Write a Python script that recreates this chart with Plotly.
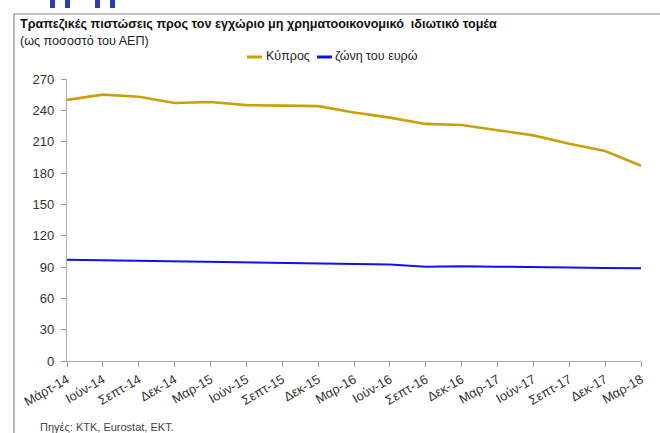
import plotly.graph_objects as go

quarters = ["Μάρτ-14", "Ιούν-14", "Σεπτ-14", "Δεκ-14", "Μαρ-15", "Ιούν-15", "Σεπτ-15",
            "Δεκ-15", "Μαρ-16", "Ιούν-16", "Σεπτ-16", "Δεκ-16", "Μαρ-17", "Ιούν-17",
            "Σεπτ-17", "Δεκ-17", "Μαρ-18"]
cyprus = [250, 255, 253, 247, 248, 245, 244.5, 244, 238, 233, 227, 226, 221, 216, 208, 201, 187]
euro_area = [97, 96.5, 96, 95.5, 95.3, 94.5, 94, 93.5, 93.4, 92.5, 90.3, 90.8, 90.3, 90.2, 89.6, 89, 88.8]
y_ticks = [0, 30, 60, 90, 120, 150, 180, 210, 240, 270]
series_names = ["Κύπρος", "ζώνη του ευρώ"]
series_colors = ["#C9A00C", "#1010F0"]

W, H = 660, 433
ML, MR, MT, MB = 67, 19, 79, 72
FONT = "Liberation Sans Narrow, Liberation Sans, sans-serif"
PW, PH = W - ML - MR, H - MT - MB


def px_x(p):
    return (p - ML) / PW


def px_y(p):
    return 1 + (MT - p) / PH


x = list(range(len(quarters)))

fig = go.Figure()
fig.add_trace(go.Scatter(x=x, y=cyprus, mode="lines", name=series_names[0],
                         line=dict(color=series_colors[0], width=2.6)))
fig.add_trace(go.Scatter(x=x, y=euro_area, mode="lines", name=series_names[1],
                         line=dict(color=series_colors[1], width=2)))

fig.update_layout(
    width=W, height=H,
    margin=dict(l=ML, r=MR, t=MT, b=MB),
    paper_bgcolor="white", plot_bgcolor="white",
    font=dict(family=FONT, color="#333333"),
    showlegend=False,
)

fig.update_xaxes(range=[0, len(quarters) - 1], tickmode="array", tickvals=x, ticktext=quarters,
                 tickangle=-30, ticks="outside", ticklen=5, tickcolor="#999999",
                 showline=True, linecolor="#aaaaaa", linewidth=1.2, showgrid=False,
                 zeroline=False, tickfont=dict(size=13, color="#333333"))
fig.update_yaxes(range=[0, 270], tickvals=y_ticks, ticks="outside", ticklen=5,
                 tickcolor="#999999", showline=True, linecolor="#aaaaaa", linewidth=1.2,
                 showgrid=False, zeroline=False, tickfont=dict(size=13, color="#333333"),
                 ticklabelstandoff=4)

# Chart frame (left and top edges of the boxed panel)
fig.add_shape(type="line", xref="paper", yref="paper",
              x0=px_x(14), x1=px_x(W), y0=px_y(14), y1=px_y(14),
              line=dict(color="#888888", width=1.2))
fig.add_shape(type="line", xref="paper", yref="paper",
              x0=px_x(14), x1=px_x(14), y0=px_y(14), y1=px_y(H),
              line=dict(color="#888888", width=1.2))

# Lower strokes of the section heading above the panel
for bx in [50, 65, 95, 110]:
    fig.add_shape(type="rect", xref="paper", yref="paper",
                  x0=px_x(bx), x1=px_x(bx + 5), y0=px_y(8), y1=px_y(0),
                  fillcolor="#2E3AB8", line=dict(width=0))

# Legend with short line samples
for sx, tx, name, color in [(247, 264, series_names[0], series_colors[0]),
                            (317, 333, series_names[1], series_colors[1])]:
    fig.add_shape(type="line", xref="paper", yref="paper",
                  x0=px_x(sx), x1=px_x(sx + 15), y0=px_y(57), y1=px_y(57),
                  line=dict(color=color, width=3))
    fig.add_annotation(text=name, xref="paper", yref="paper", x=px_x(tx), y=px_y(56),
                       xanchor="left", yanchor="middle", showarrow=False,
                       font=dict(size=12.5, color="#222222"))

fig.add_annotation(text="<b>Τραπεζικές πιστώσεις προς τον εγχώριο μη χρηματοοικονομικό  ιδιωτικό τομέα</b>",
                   xref="paper", yref="paper", x=px_x(18), y=px_y(24), xanchor="left",
                   yanchor="middle", showarrow=False, font=dict(size=12.6, color="#111111"))
fig.add_annotation(text="(ως ποσοστό του ΑΕΠ)",
                   xref="paper", yref="paper", x=px_x(18), y=px_y(41), xanchor="left",
                   yanchor="middle", showarrow=False, font=dict(size=12.6, color="#222222"))
fig.add_annotation(text="Πηγές: KTK, Eurostat, EKT.",
                   xref="paper", yref="paper", x=px_x(38), y=px_y(427), xanchor="left",
                   yanchor="middle", showarrow=False, font=dict(size=11, color="#444444"))

fig.write_html("out.html")
